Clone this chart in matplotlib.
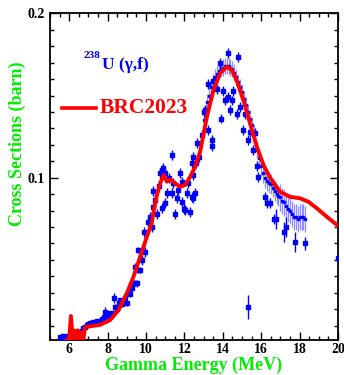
import matplotlib
matplotlib.use("Agg")
import matplotlib.pyplot as plt
from matplotlib.ticker import MultipleLocator, FixedLocator

# BRC2023 evaluation curve
brc_x = [5.85, 6.0, 6.09, 6.19, 6.28, 6.36, 6.45, 6.57, 6.66, 6.74, 6.83, 7.0, 7.3, 7.61,
         8.13, 8.57, 9.0, 9.35, 9.7, 10.04, 10.3, 10.39, 10.57, 10.74, 10.91, 11.09, 11.26,
         11.52, 11.78, 12.04, 12.3, 12.56, 12.82, 13.17, 13.51, 13.86, 14.21, 14.47, 14.73,
         15.07, 15.42, 15.77, 16.11, 16.46, 16.98, 17.5, 18.02, 18.46, 18.9, 19.41, 20.0]
brc_y = [0.001, 0.002, 0.0159, 0.001, 0.0070, 0.001, 0.0072, 0.001, 0.0060, 0.002, 0.0090,
         0.0095, 0.0100, 0.0105, 0.0134, 0.0195, 0.0297, 0.0398, 0.0520, 0.0640, 0.0725,
         0.0790, 0.0895, 0.0966, 0.1016, 0.0976, 0.0990, 0.0966, 0.0945, 0.0956, 0.1006,
         0.1067, 0.1158, 0.1370, 0.1530, 0.1635, 0.1675, 0.1655, 0.1590, 0.1473, 0.1330,
         0.1190, 0.1080, 0.1000, 0.0915, 0.0884, 0.0875, 0.0854, 0.0814, 0.0763, 0.0708]

# dense experimental set (light error bars)
dense_x = [13.0, 13.1, 13.2, 13.3, 13.4, 13.5, 13.6, 13.7, 13.8, 13.9, 14.0, 14.1, 14.2, 14.3,
           14.4, 14.5, 14.6, 14.7, 14.8, 14.9, 15.0, 15.1, 15.2, 15.3, 15.4, 15.5, 15.6, 15.7,
           15.8, 15.9, 16.0, 16.1, 16.2, 16.3, 16.4, 16.5, 16.6, 16.7, 16.8, 16.9, 17.0, 17.1,
           17.2, 17.3, 17.4, 17.5, 17.6, 17.7, 17.8, 17.9, 18.0, 18.1, 18.2, 18.3]
dense_y = [0.135, 0.140, 0.146, 0.150, 0.155, 0.158, 0.161, 0.163, 0.165, 0.166, 0.167, 0.168,
           0.168, 0.168, 0.167, 0.166, 0.164, 0.161, 0.158, 0.155, 0.152, 0.148, 0.144, 0.140,
           0.136, 0.132, 0.127, 0.122, 0.117, 0.112, 0.107, 0.103, 0.100, 0.098, 0.097, 0.096,
           0.094, 0.092, 0.090, 0.089, 0.088, 0.086, 0.085, 0.083, 0.081, 0.080, 0.078, 0.076,
           0.076, 0.075, 0.076, 0.076, 0.076, 0.075]
dense_err = [0.005] * 30 + [0.006] * 10 + [0.008] * 14

# scattered experimental points
sc_x = [5.53, 5.62, 5.70, 5.79, 5.88, 5.96, 6.05, 6.14, 6.22, 6.31, 6.40, 6.48, 6.57, 6.66,
        6.74, 6.83, 6.92, 7.00, 7.09, 7.18, 7.26, 7.35, 7.44, 7.52, 7.61, 7.70, 7.79, 7.87,
        7.96, 8.04, 8.13, 8.22, 8.31, 8.39, 8.48, 8.57, 8.65, 8.74, 8.83, 8.92, 9.00, 9.09,
        9.17, 9.26, 9.35, 9.44, 9.44, 9.52, 9.60, 9.70, 9.60, 9.80, 9.92, 9.96, 10.13, 10.20,
        10.30, 10.39, 10.39, 10.48, 10.57, 10.66, 10.74, 10.83, 10.91, 11.00, 11.09, 11.00,
        10.83, 11.18, 11.35, 11.35, 11.43, 11.53, 11.60, 11.69, 11.78, 11.87, 11.87, 11.97,
        12.04, 12.13, 12.21, 12.30, 12.39, 12.39, 12.44, 12.47, 12.47, 12.56, 12.61, 12.65,
        12.78, 12.91, 13.00, 13.08, 13.25, 13.25, 13.43, 13.43, 13.51, 13.69, 13.86, 13.90,
        14.03, 14.12, 14.29, 14.29, 14.38, 14.47, 14.55, 14.81, 14.73, 14.90, 15.07, 15.16,
        15.33, 15.42, 15.59, 15.68, 15.77, 15.85, 16.19, 16.31, 16.48, 16.65, 16.75, 17.18,
        17.30, 17.78, 18.27, 15.32, 20.0]
sc_y = [0.0033, 0.0030, 0.0035, 0.0028, 0.0033, 0.0040, 0.0045, 0.0038, 0.0048, 0.0053,
        0.0050, 0.0058, 0.0063, 0.0070, 0.0084, 0.0095, 0.0104, 0.0110, 0.0118, 0.0115,
        0.0124, 0.0120, 0.0128, 0.0125, 0.0130, 0.0140, 0.0155, 0.0185, 0.0160, 0.0175,
        0.0170, 0.0180, 0.0267, 0.0215, 0.0200, 0.0236, 0.0256, 0.0230, 0.0245, 0.0267,
        0.0236, 0.0297, 0.0290, 0.0327, 0.0360, 0.0358, 0.0459, 0.0358, 0.0440, 0.0440,
        0.0560, 0.0500, 0.0670, 0.0550, 0.0730, 0.0760, 0.0700, 0.0820, 0.0920, 0.0864,
        0.0780, 0.0950, 0.1027, 0.1047, 0.1057, 0.1027, 0.0905, 0.0844, 0.0814, 0.1000,
        0.1138, 0.0905, 0.0966, 0.0780, 0.0875, 0.0925, 0.1027, 0.0976, 0.0854, 0.0810,
        0.0803, 0.0905, 0.0966, 0.0793, 0.0884, 0.1088, 0.0875, 0.1016, 0.1128, 0.0905,
        0.1088, 0.1209, 0.1128, 0.1260, 0.1400, 0.1412, 0.1570, 0.1290, 0.1230, 0.1190,
        0.1590, 0.1540, 0.1696, 0.1360, 0.1530, 0.1470, 0.1757, 0.1490, 0.1410, 0.1470,
        0.1530, 0.1735, 0.1390, 0.1430, 0.1290, 0.1390, 0.1230, 0.1280, 0.1170, 0.1270,
        0.1070, 0.1006, 0.0884, 0.0844, 0.0844, 0.0750, 0.0750, 0.0670, 0.0700, 0.0610,
        0.0600, 0.0215, 0.0510]
sc_err = [0.0010] * 27 + [0.0030] + [0.0012] * 4 + [0.0030] + [0.0015] * 13 + [0.0020] * 5 \
         + [0.0030] * 75 + [0.0060] * 4 + [0.0040] + [0.0073, 0.0050]

fig = plt.figure(figsize=(3.44, 3.75), dpi=100)
ax = fig.add_axes([0.1453, 0.0933, 0.8373, 0.8712])

serif = ['Liberation Serif', 'DejaVu Serif']

ax.errorbar(dense_x, dense_y, yerr=dense_err, fmt='none', ecolor='#8c8cff', elinewidth=0.9,
            zorder=2)
ax.plot(dense_x, dense_y, 's', color='#0000ff', ms=1.6, zorder=3)
ax.errorbar(sc_x, sc_y, yerr=sc_err, fmt='s', color='#0000ff', ms=2.2, elinewidth=1.0,
            ecolor='#0000ff', capsize=0, zorder=3)
ax.plot(brc_x, brc_y, color='#ff0000', lw=2.8, zorder=4)

ax.set_xlim(5, 20)
ax.set_ylim(0.0013, 0.2)
ax.xaxis.set_major_locator(MultipleLocator(2))
ax.xaxis.set_minor_locator(MultipleLocator(0.5))
ax.yaxis.set_major_locator(FixedLocator([0.1, 0.2]))
ax.yaxis.set_minor_locator(MultipleLocator(0.01))
ax.set_yticklabels(['0.1', '0.2'])
ax.tick_params(which='both', direction='in', top=True, right=True, width=1.0)
ax.tick_params(which='major', length=6, labelsize=10)
ax.tick_params(axis='x', which='major', pad=2)
ax.tick_params(axis='y', which='major', pad=4)
ax.tick_params(which='minor', length=3)
for lab in ax.get_xticklabels() + ax.get_yticklabels():
    lab.set_family(serif)
    lab.set_fontweight('bold')
for s in ax.spines.values():
    s.set_linewidth(1.3)

ax.set_xlabel('Gamma Energy (MeV)', family=serif, fontweight='bold', fontsize=13,
              color='#00ee00')
ax.xaxis.set_label_coords(0.5, -0.052)
ax.set_ylabel('Cross Sections (barn)', family=serif, fontweight='bold', fontsize=13,
              color='#00ee00')
ax.yaxis.set_label_coords(-0.085, 0.60)

fig.text(83 / 344, 1 - 58 / 375, '238', family=serif, fontweight='bold',
         fontsize=8, color='#0000ee', va='baseline')
fig.text(102 / 344, 1 - 69 / 375, 'U (γ,f)', family=serif, fontweight='bold',
         fontsize=12.5, color='#0000ee', va='baseline')
fig.lines.append(plt.Line2D([62 / 344, 96 / 344], [1 - 108 / 375, 1 - 108 / 375],
                            color='#ff0000', lw=2.6, transform=fig.transFigure))
fig.text(100 / 344, 1 - 108 / 375, 'BRC2023', family=serif, fontweight='bold', fontsize=15.5,
         color='#ff0000', va='center')

fig.savefig('out.png', dpi=100)
